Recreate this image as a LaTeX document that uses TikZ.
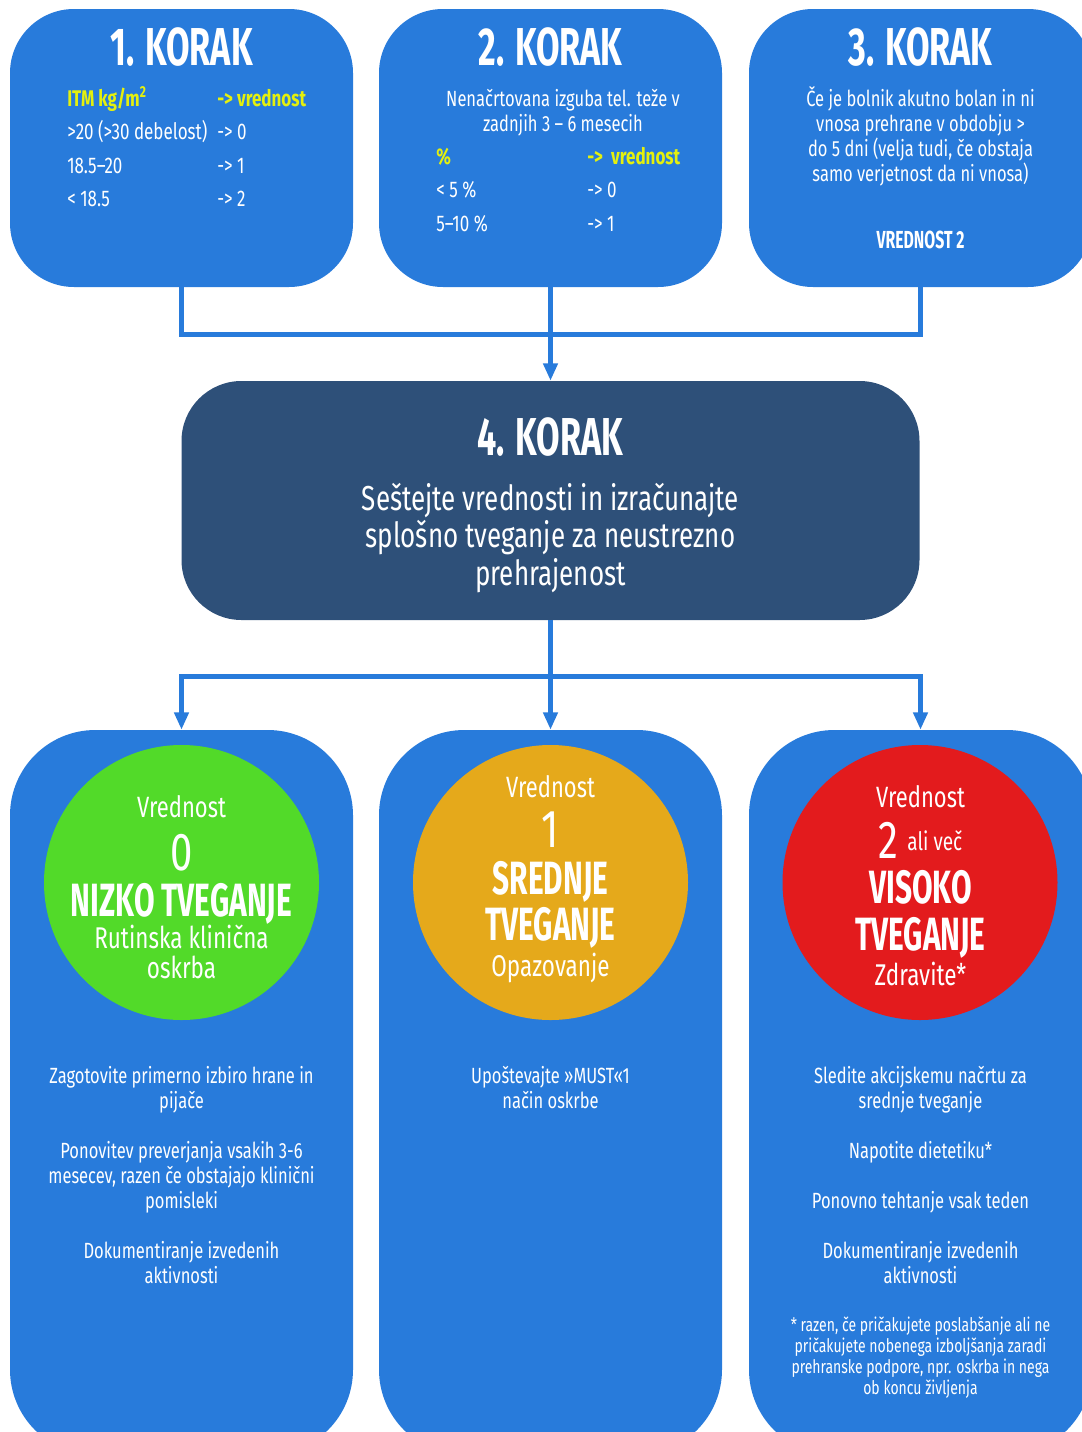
\documentclass[tikz,border=0pt]{standalone}
\usepackage{fontspec}
\setmainfont{Fira Sans}[FakeStretch=0.75]
\newfontfamily\hdfont{Fira Sans}[FakeStretch=0.64]
\usetikzlibrary{arrows.meta}
\definecolor{boxblue}{HTML}{287BDB}
\definecolor{darkblue}{HTML}{2E5079}
\definecolor{riskgreen}{HTML}{52DA29}
\definecolor{riskorange}{HTML}{E5A91B}
\definecolor{riskred}{HTML}{E31B1D}
\definecolor{hiyellow}{HTML}{E4F00E}
\begin{document}
\begin{tikzpicture}[x=0.75pt,y=-0.75pt,
  box/.style={fill=boxblue, rounded corners=48pt, minimum width=257.25pt, minimum height=208.5pt, inner sep=0pt},
  darkbox/.style={fill=darkblue, rounded corners=45pt, minimum width=553.5pt, minimum height=179.25pt, inner sep=0pt},
  lowbox/.style={fill=boxblue, rounded corners=64pt, minimum width=257.25pt, minimum height=543.75pt, inner sep=0pt},
  disc/.style={circle, minimum size=206.25pt, inner sep=0pt},
  conn/.style={draw=boxblue, line width=3.75pt},
  arrowtip/.style={-{Triangle[length=13pt,width=10.5pt]}},
  txt/.style={text=white, inner sep=0pt, align=center, anchor=base},
  body/.style={txt, font=\fontsize{16.5}{18.75}\selectfont},
  head/.style={txt, font=\hdfont\bfseries\fontsize{40}{40}\selectfont},
  cell/.style={text=white, inner sep=0pt, anchor=base west, font=\fontsize{17}{18.75}\selectfont},
  ycell/.style={cell, text=hiyellow, font=\bfseries\fontsize{17}{18.75}\selectfont},
  vr/.style={txt, font=\fontsize{22}{22}\selectfont},
  big/.style={txt, font=\fontsize{40}{40}\selectfont},
  risk/.style={txt, font=\hdfont\bfseries\fontsize{35}{34.5}\selectfont},
  sub/.style={txt, font=\fontsize{22.5}{22.5}\selectfont}
]
\useasboundingbox (0,0) rectangle (1082,1432);
\clip (0,0) rectangle (1082,1432);

% boxes
\node[box] (b1) at (181.5,148) {};
\node[box] (b2) at (550.5,148) {};
\node[box] (b3) at (920.5,148) {};
\node[darkbox] (b4) at (550.5,500.5) {};
\node[lowbox] (b5) at (181.5,1092.5) {};
\node[lowbox] (b6) at (550.5,1092.5) {};
\node[lowbox] (b7) at (920.5,1092.5) {};
\node[disc, fill=riskgreen] (c1) at (181.5,882.5) {};
\node[disc, fill=riskorange] (c2) at (550.5,882.5) {};
\node[disc, fill=riskred] (c3) at (920,882.5) {};

% connectors
\coordinate (j1) at (550.5,334);
\coordinate (j2) at (550.5,676);
\draw[conn] (b1.south) |- (j1) -| (b3.south);
\draw[conn,arrowtip] (b2.south) -- (b4.north);
\draw[conn] (b4.south) -- (j2);
\draw[conn,arrowtip] (j2) -| (b5.north);
\draw[conn,arrowtip] (j2) -| (b7.north);
\draw[conn,arrowtip] (j2) -- (b6.north);

% headings
\node[head] (h1) at (181.5,65) {1. KORAK};
\node[head] (h2) at (550.5,65) {2. KORAK};
\node[head] (h3) at (920.5,65) {3. KORAK};
\node[head] (h4) at (550.5,455) {4. KORAK};

% box 1
\node[ycell] (t1a) at (67,106) {ITM kg/m\textsuperscript{2}};
\node[ycell] (t1b) at (217,106) {-> vrednost};
\node[cell] (t2a) at (67,139) {>20 (>30 debelost)};
\node[cell] (t2b) at (217,139) {-> 0};
\node[cell] (t3a) at (67,173) {18.5–20};
\node[cell] (t3b) at (217,173) {-> 1};
\node[cell] (t4a) at (67,206) {< 18.5};
\node[cell] (t4b) at (217,206) {-> 2};

% box 2 (multi-line nodes: base = last line)
\node[body] (t5) at (563,131) {Nenačrtovana izguba tel. teže v\\zadnjih 3 – 6 mesecih};
\node[ycell] (t6a) at (436,164) {\%};
\node[ycell] (t6b) at (587,164) {->\ \ vrednost};
\node[cell] (t7a) at (436,197) {< 5 \%};
\node[cell] (t7b) at (587,197) {-> 0};
\node[cell] (t8a) at (436,231) {5–10 \%};
\node[cell] (t8b) at (587,231) {-> 1};

% box 3
\node[body] (t9) at (920.5,181) {Če je bolnik akutno bolan in ni\\vnosa prehrane v obdobju >\\do 5 dni (velja tudi, če obstaja\\samo verjetnost da ni vnosa)};
\node[txt, font=\hdfont\bfseries\fontsize{18.5}{18}\selectfont] (t10) at (920.5,248) {VREDNOST 2};

% box 4
\node[txt, font=\fontsize{26}{28.1}\selectfont] (t11) at (550.5,585) {Seštejte vrednosti in izračunajte\\splošno tveganje za neustrezno\\prehrajenost};

% green circle
\node[vr] (g1) at (181.5,817) {Vrednost};
\node[big] (g2) at (181.5,870) {0};
\node[risk] (g3) at (181.5,916) {NIZKO TVEGANJE};
\node[sub] (g4) at (181.5,978) {Rutinska klinična\\oskrba};

% orange circle
\node[vr] (o1) at (550.5,797) {Vrednost};
\node[big] (o2) at (550.5,847) {1};
\node[risk] (o3) at (550.5,940) {SREDNJE\\TVEGANJE};
\node[sub] (o4) at (550.5,976) {Opazovanje};

% red circle
\node[vr] (r1) at (920.5,807) {Vrednost};
\node[big] (r2) at (920.5,858) {2\,{\fontsize{19}{19}\selectfont\raisebox{6pt}{ali več}}};
\node[risk, font=\hdfont\bfseries\fontsize{35}{35.25}\selectfont] (r3) at (920.5,950) {VISOKO\\TVEGANJE};
\node[sub] (r4) at (920.5,985) {Zdravite*};

% bottom texts
\node[body] (l1) at (181.5,1283) {Zagotovite primerno izbiro hrane in\\pijače\\[18.75pt]Ponovitev preverjanja vsakih 3-6\\mesecev, razen če obstajajo klinični\\pomisleki\\[18.75pt]Dokumentiranje izvedenih\\aktivnosti};
\node[body] (m1) at (550.5,1108) {Upoštevajte »MUST«1\\način oskrbe};
\node[body] (q1) at (920.5,1283) {Sledite akcijskemu načrtu za\\srednje tveganje\\[18.75pt]Napotite dietetiku*\\[18.75pt]Ponovno tehtanje vsak teden\\[18.75pt]Dokumentiranje izvedenih\\aktivnosti};
\node[txt, font=\fontsize{14}{15.75}\selectfont] (q2) at (920.5,1394) {* razen, če pričakujete poslabšanje ali ne\\pričakujete nobenega izboljšanja zaradi\\prehranske podpore, npr. oskrba in nega\\ob koncu življenja};
\end{tikzpicture}
\end{document}
